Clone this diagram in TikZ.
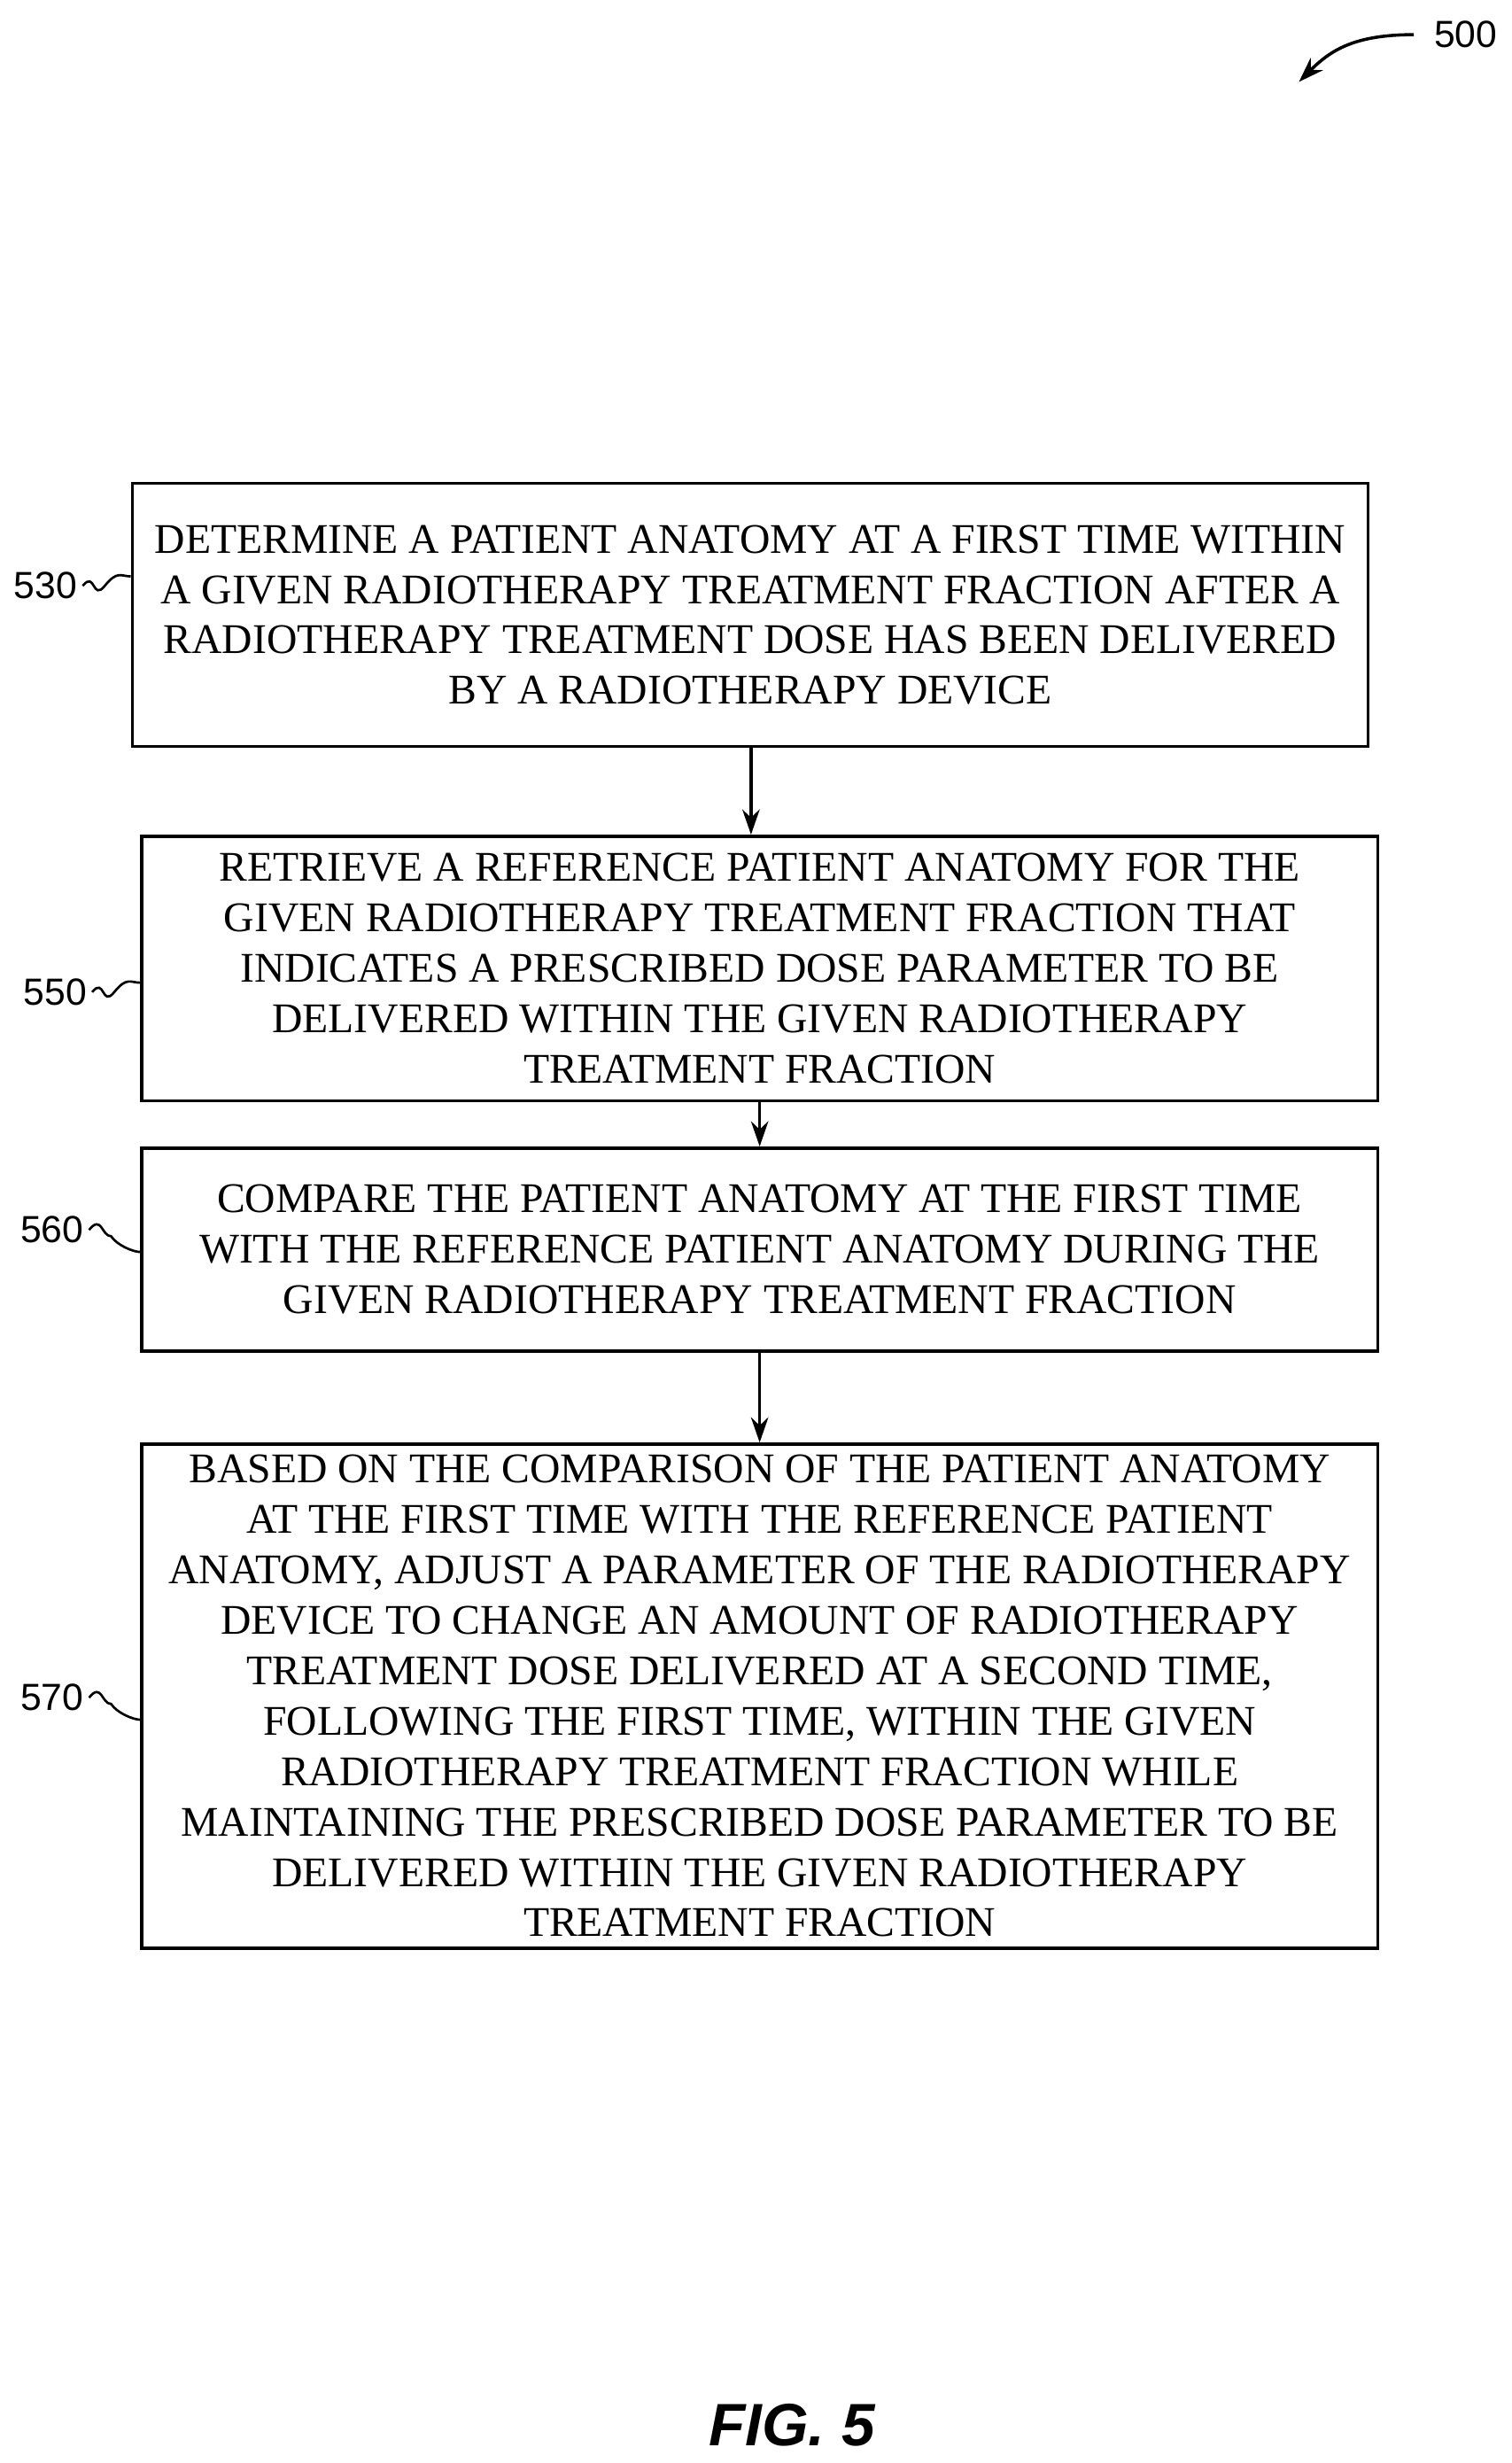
\documentclass[tikz,border=0pt]{standalone}
\usepackage{fontspec}
\setmainfont{Liberation Serif}
\newfontfamily\lab{Liberation Sans}
\usetikzlibrary{arrows.meta}
\begin{document}
\begin{tikzpicture}[x=1pt,y=1pt,
  box/.style={draw,line width=2pt,align=center,inner sep=0pt,font=\fontsize{26.8}{32}\selectfont},
  arr/.style={line width=2pt,-{Stealth[length=16pt,width=11pt]}},
  lb/.style={font=\lab\fontsize{24}{28}\selectfont},
  sq/.style={line width=1.5pt}]
\useasboundingbox (0,0) rectangle (960,-1564);
\node[box,minimum width=785,minimum height=167] (b530) at (476.5,-390.5) {DETERMINE A PATIENT ANATOMY AT A FIRST TIME WITHIN\\A GIVEN RADIOTHERAPY TREATMENT FRACTION AFTER A\\RADIOTHERAPY TREATMENT DOSE HAS BEEN DELIVERED\\BY A RADIOTHERAPY DEVICE};
\node[box,minimum width=785,minimum height=168] (b550) at (482.5,-615) {RETRIEVE A REFERENCE PATIENT ANATOMY FOR THE\\GIVEN RADIOTHERAPY TREATMENT FRACTION THAT\\INDICATES A PRESCRIBED DOSE PARAMETER TO BE\\DELIVERED WITHIN THE GIVEN RADIOTHERAPY\\TREATMENT FRACTION};
\node[box,minimum width=785,minimum height=129] (b560) at (482.5,-793.5) {COMPARE THE PATIENT ANATOMY AT THE FIRST TIME\\WITH THE REFERENCE PATIENT ANATOMY DURING THE\\GIVEN RADIOTHERAPY TREATMENT FRACTION};
\node[box,minimum width=785,minimum height=320] (b570) at (482.5,-1077) {BASED ON THE COMPARISON OF THE PATIENT ANATOMY\\AT THE FIRST TIME WITH THE REFERENCE PATIENT\\ANATOMY, ADJUST A PARAMETER OF THE RADIOTHERAPY\\DEVICE TO CHANGE AN AMOUNT OF RADIOTHERAPY\\TREATMENT DOSE DELIVERED AT A SECOND TIME,\\FOLLOWING THE FIRST TIME, WITHIN THE GIVEN\\RADIOTHERAPY TREATMENT FRACTION WHILE\\MAINTAINING THE PRESCRIBED DOSE PARAMETER TO BE\\DELIVERED WITHIN THE GIVEN RADIOTHERAPY\\TREATMENT FRACTION};
\draw[arr] (b530.south -| 477,0) -- (b550.north -| 477,0);
\draw[arr] (b550.south) -- (b560.north);
\draw[arr] (b560.south) -- (b570.north);
\node[lb] (l530) at (29,-372) {530};
\node[lb] (l550) at (35,-630) {550};
\node[lb] (l560) at (33,-781) {560};
\node[lb] (l570) at (33,-1078) {570};
\draw[sq] (l530.east) .. controls +(8,10) and +(-8,-10) .. ++(14,0) .. controls +(8,10) and +(-6,0) .. (b530.west |- 0,-366);
\draw[sq] (l550.east) .. controls +(8,10) and +(-8,-10) .. ++(14,0) .. controls +(8,10) and +(-6,0) .. (b550.west |- 0,-624);
\draw[sq] (l560.east) .. controls +(8,10) and +(-6,0) .. ++(14,-4) .. controls +(4,-6) and +(-4,0) .. (b560.west |- 0,-795);
\draw[sq] (l570.east) .. controls +(8,10) and +(-6,0) .. ++(14,-4) .. controls +(4,-6) and +(-4,0) .. (b570.west |- 0,-1092);
\node[lb] (l500) at (931,-22) {500};
\coordinate (a500) at (825,-52);
\draw[line width=2pt,-{Stealth[length=16pt,width=11pt]}] (898,-22) .. controls (860,-22) and (845,-32) .. (a500);
\node[font=\lab\bfseries\itshape\fontsize{38}{42}\selectfont] (fig) at (503,-1540) {FIG. 5};
\end{tikzpicture}
\end{document}
